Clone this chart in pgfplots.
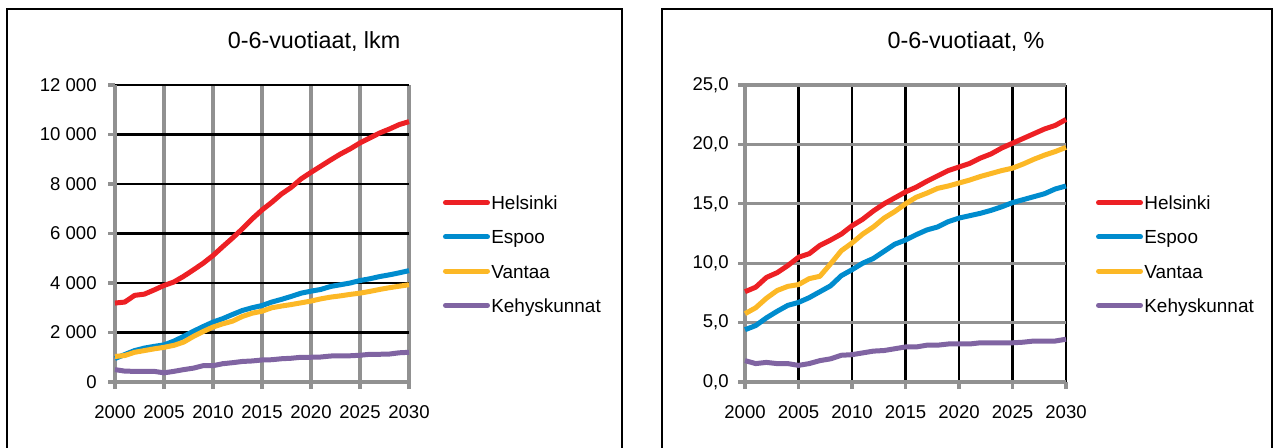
\documentclass[border=0pt]{standalone}
\usepackage{fontspec}
\setmainfont{Liberation Sans}
\usepackage{pgfplots}
\pgfplotsset{compat=1.18}
\usepackage{pgfplotstable}

\definecolor{cH}{RGB}{237,32,36}
\definecolor{cE}{RGB}{0,140,206}
\definecolor{cV}{RGB}{252,184,38}
\definecolor{cK}{RGB}{128,100,162}
\definecolor{gridgray}{RGB}{145,145,145}

\pgfplotstableread{
year H E V K
2000 3190 950 1030 500
2001 3230 1110 1070 440
2002 3500 1270 1200 430
2003 3550 1370 1270 430
2004 3720 1440 1340 430
2005 3900 1500 1400 370
2006 4040 1650 1480 430
2007 4270 1840 1610 500
2008 4530 2050 1840 560
2009 4800 2240 2040 660
2010 5110 2420 2220 660
2011 5470 2560 2350 740
2012 5820 2730 2460 780
2013 6190 2890 2650 830
2014 6590 3000 2780 850
2015 6950 3090 2860 890
2016 7260 3230 3000 900
2017 7600 3340 3070 940
2018 7870 3460 3130 960
2019 8210 3590 3200 1000
2020 8470 3670 3270 1000
2021 8720 3740 3360 1010
2022 8970 3860 3430 1050
2023 9210 3930 3480 1060
2024 9420 4000 3540 1060
2025 9660 4100 3590 1080
2026 9860 4170 3660 1120
2027 10060 4260 3740 1120
2028 10220 4330 3810 1130
2029 10400 4410 3870 1180
2030 10520 4500 3930 1200
}\lkm

\pgfplotstableread{
year H E V K
2000 7.6 4.4 5.75 1.8
2001 7.98 4.75 6.25 1.55
2002 8.8 5.4 7.05 1.65
2003 9.2 5.95 7.7 1.55
2004 9.8 6.45 8.05 1.55
2005 10.5 6.7 8.2 1.4
2006 10.8 7.1 8.7 1.55
2007 11.5 7.6 8.9 1.8
2008 11.95 8.1 9.95 1.95
2009 12.45 8.95 11.05 2.25
2010 13.15 9.45 11.7 2.3
2011 13.7 10.0 12.45 2.45
2012 14.4 10.4 13.05 2.6
2013 15.0 11.0 13.8 2.65
2014 15.5 11.6 14.35 2.8
2015 16.0 11.95 15.0 2.95
2016 16.4 12.4 15.55 2.95
2017 16.9 12.8 15.9 3.1
2018 17.35 13.05 16.3 3.1
2019 17.8 13.5 16.5 3.2
2020 18.1 13.8 16.75 3.2
2021 18.4 14.0 17.0 3.2
2022 18.85 14.2 17.3 3.3
2023 19.2 14.45 17.55 3.3
2024 19.7 14.75 17.8 3.3
2025 20.1 15.1 18.0 3.3
2026 20.5 15.35 18.35 3.35
2027 20.9 15.6 18.75 3.45
2028 21.3 15.85 19.1 3.45
2029 21.6 16.25 19.4 3.45
2030 22.1 16.5 19.75 3.6
}\pct

\pgfplotsset{
  panel/.style={
    scale only axis,
    height=222.75pt,
    xmin=2000, xmax=2030,
    xtick={2000,2005,...,2030},
    xticklabels={2000,2005,2010,2015,2020,2025,2030},
    scaled y ticks=false,
    axis lines*=left,
    axis line style={gridgray, line width=2.4pt},
    tick align=outside,
    major tick length=5.25pt,
    tick style={gridgray, line width=2.4pt},
    xmajorgrids, ymajorgrids,
    ticklabel style={font=\fontsize{13.9}{16}\selectfont},
    xticklabel style={yshift=-9pt},
    clip=false,
    every axis title shift=0pt,
    title style={font=\fontsize{17.5}{20}\selectfont, anchor=center},
    legend cell align=left,
    legend style={draw=none, fill=none, inner sep=0pt, outer sep=0pt,
      anchor=west, row sep=10.25pt,
      font=\fontsize{14.2}{17}\selectfont,
      nodes={inner sep=1pt}},
    legend image code/.code={\draw[#1, line cap=round] (0pt,0pt) -- (31.5pt,0pt);},
    every axis plot/.append style={line width=3.75pt, line join=round, no markers},
  }
}

\begin{document}
\begin{tikzpicture}
\path[use as bounding box] (0pt,0pt) rectangle (957pt,335.25pt);
\draw[line width=1.5pt] (5.25pt,-10pt) rectangle (466.5pt,328.5pt);
\draw[line width=1.5pt] (496.5pt,-10pt) rectangle (954pt,328.5pt);

\begin{axis}[panel,
  at={(86.25pt,48.75pt)}, anchor=south west,
  width=220.5pt,
  ymin=0, ymax=12000,
  ytick={0,2000,...,12000},
  yticklabels={0,2 000,4 000,6 000,8 000,10 000,12 000},
  yticklabel style={xshift=-5pt},
  grid style={line width=2.4pt},
  x grid style={gridgray, line width=2.4pt},
  y grid style={black, line width=1.9pt},
  major x grid style={gridgray, line width=2.4pt},
  major y grid style={black, line width=1.9pt},
  title={0-6-vuotiaat, lkm},
  title style={at={(0.677,1.145)}},
  legend style={at={(1.1156,0.431)}},
]
\addplot[cH] table[x=year,y=H] {\lkm};
\addplot[cE] table[x=year,y=E] {\lkm};
\addplot[cV] table[x=year,y=V] {\lkm};
\addplot[cK] table[x=year,y=K] {\lkm};
\addlegendentry{\strut Helsinki}
\addlegendentry{\strut Espoo}
\addlegendentry{\strut Vantaa}
\addlegendentry{\strut Kehyskunnat}
\end{axis}

\begin{axis}[panel,
  at={(558.75pt,48.75pt)}, anchor=south west,
  width=240.75pt,
  ymin=0, ymax=25,
  ytick={0,5,...,25},
  yticklabels={{0,0},{5,0},{10,0},{15,0},{20,0},{25,0}},
  yticklabel style={xshift=-3.5pt},
  grid style={line width=2.4pt},
  x grid style={black, line width=1.9pt},
  y grid style={gridgray, line width=2.4pt},
  major x grid style={black, line width=1.9pt},
  major y grid style={gridgray, line width=2.4pt},
  title={0-6-vuotiaat, \%},
  title style={at={(0.6885,1.145)}},
  legend style={at={(1.0935,0.431)}},
]
\addplot[cH] table[x=year,y=H] {\pct};
\addplot[cE] table[x=year,y=E] {\pct};
\addplot[cV] table[x=year,y=V] {\pct};
\addplot[cK] table[x=year,y=K] {\pct};
\addlegendentry{\strut Helsinki}
\addlegendentry{\strut Espoo}
\addlegendentry{\strut Vantaa}
\addlegendentry{\strut Kehyskunnat}
\end{axis}
\end{tikzpicture}
\end{document}
